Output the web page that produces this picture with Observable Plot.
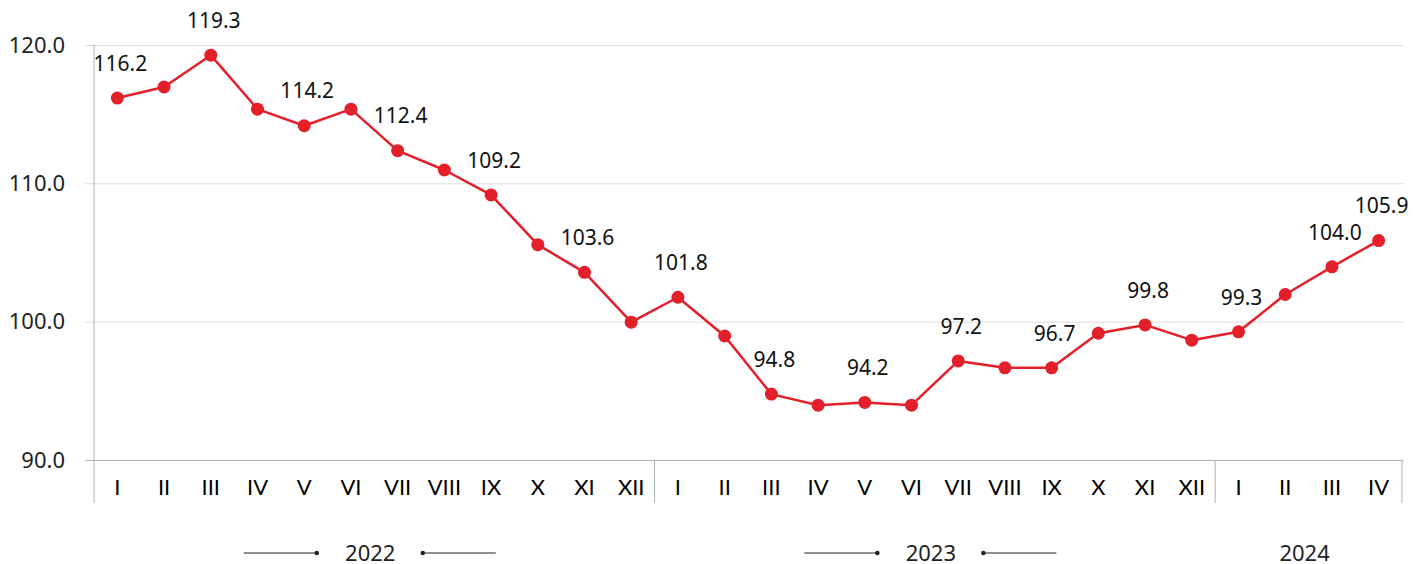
<!DOCTYPE html>
<html>
<head>
<meta charset="utf-8">
<script src="https://cdn.jsdelivr.net/npm/d3@7"></script>
<script src="https://cdn.jsdelivr.net/npm/@observablehq/plot@0.6"></script>
<style>
  html, body { margin: 0; padding: 0; background: #fff; }
  #chart svg { display: block; }
</style>
</head>
<body>
<div id="chart"></div>
<script>
// ---- data ----
const months = ["I","II","III","IV","V","VI","VII","VIII","IX","X","XI","XII",
                "I","II","III","IV","V","VI","VII","VIII","IX","X","XI","XII",
                "I","II","III","IV"];
const years = ["2022","2022","2022","2022","2022","2022","2022","2022","2022","2022","2022","2022",
               "2023","2023","2023","2023","2023","2023","2023","2023","2023","2023","2023","2023",
               "2024","2024","2024","2024"];
const values = [116.2,117.0,119.3,115.4,114.2,115.4,112.4,111.0,109.2,105.6,103.6,100.0,
                101.8,99.0,94.8,94.0,94.2,94.0,97.2,96.7,96.7,99.2,99.8,98.7,
                99.3,102.0,104.0,105.9];
const yTicks = [90, 100, 110, 120];
const yearNames = ["2022","2023","2024"];

// ---- derived table ----
const data = values.map((v, i) => ({i, v, month: months[i], year: years[i]}));
const last = data.length - 1;
const labeled = data.filter(d => d.i % 2 === 0 || d.i === last);
const yearGroups = yearNames.map(y => {
  const idx = data.filter(d => d.year === y).map(d => d.i);
  return {year: y, center: d3.mean(idx), n: idx.length, start: d3.min(idx) - 0.5, end: d3.max(idx) + 0.5};
});
const separators = yearGroups.map(g => g.end);

const RED = "#e3202a";
const FONT = "'Noto Sans', 'DejaVu Sans', sans-serif";
const MONTH_FONT = "Lato, 'Open Sans', sans-serif";

const chart = Plot.plot({
  width: 1426,
  height: 564,
  marginTop: 45,
  marginBottom: 104,
  marginLeft: 93.5,
  marginRight: 24.5,
  style: {fontFamily: FONT, background: "#fff", overflow: "visible"},
  x: {domain: [-0.5, last + 0.5], axis: null},
  y: {domain: [90, 120], axis: null},
  marks: [
    Plot.ruleY(yTicks.filter(t => t !== 90), {y: d => d, stroke: "#dcdcdc", strokeWidth: 1, insetLeft: -8, insetRight: -2}),
    Plot.ruleY([90], {stroke: "#b0b0b0", strokeWidth: 1, insetLeft: -8, insetRight: -2}),
    Plot.ruleX([-0.5], {y1: 120, y2: 90, stroke: "#b0b0b0", strokeWidth: 1, insetBottom: -43}),
    Plot.ruleX(separators, {y1: 90, y2: 90, stroke: "#b0b0b0", strokeWidth: 1, insetBottom: -43}),
    Plot.text(yTicks, {x: -0.5, y: d => d, text: d => d.toFixed(1), textAnchor: "end", dx: -29, fontSize: 22, fill: "#222"}),
    Plot.line(data, {x: "i", y: "v", stroke: RED, strokeWidth: 2.5}),
    Plot.dot(data, {x: "i", y: "v", r: 6.5, fill: RED, stroke: null}),
    Plot.text(labeled, {x: "i", y: "v", text: d => d.v.toFixed(1), dy: -34, dx: 3, fontSize: 21, fill: "#111"}),
    Plot.text(data, {x: "i", text: "month", frameAnchor: "bottom", lineAnchor: "middle", dy: 27, fontSize: 22, fill: "#000", fontFamily: MONTH_FONT}),
    Plot.text(yearGroups, {x: "center", text: "year", frameAnchor: "bottom", lineAnchor: "middle", dy: 93, dx: -4, fontSize: 22, fill: "#222"})
  ]
});

document.getElementById("chart").appendChild(chart);

// decorative lines beside full-year labels
const xs = chart.scale("x");
const svg = d3.select(chart);
const yLine = 553;
const deco = svg.append("g").attr("stroke", "#222").attr("fill", "#222");
yearGroups.filter(g => g.n === 12).forEach(g => {
  const cx = xs.apply(g.center) - 4;
  [[-1, cx - 53], [1, cx + 53]].forEach(([s, dotX]) => {
    deco.append("line").attr("x1", dotX).attr("x2", dotX + s * 73)
      .attr("y1", yLine).attr("y2", yLine).attr("stroke-width", 1);
    deco.append("circle").attr("cx", dotX).attr("cy", yLine).attr("r", 2.3).attr("stroke", "none");
  });
});
</script>
</body>
</html>
